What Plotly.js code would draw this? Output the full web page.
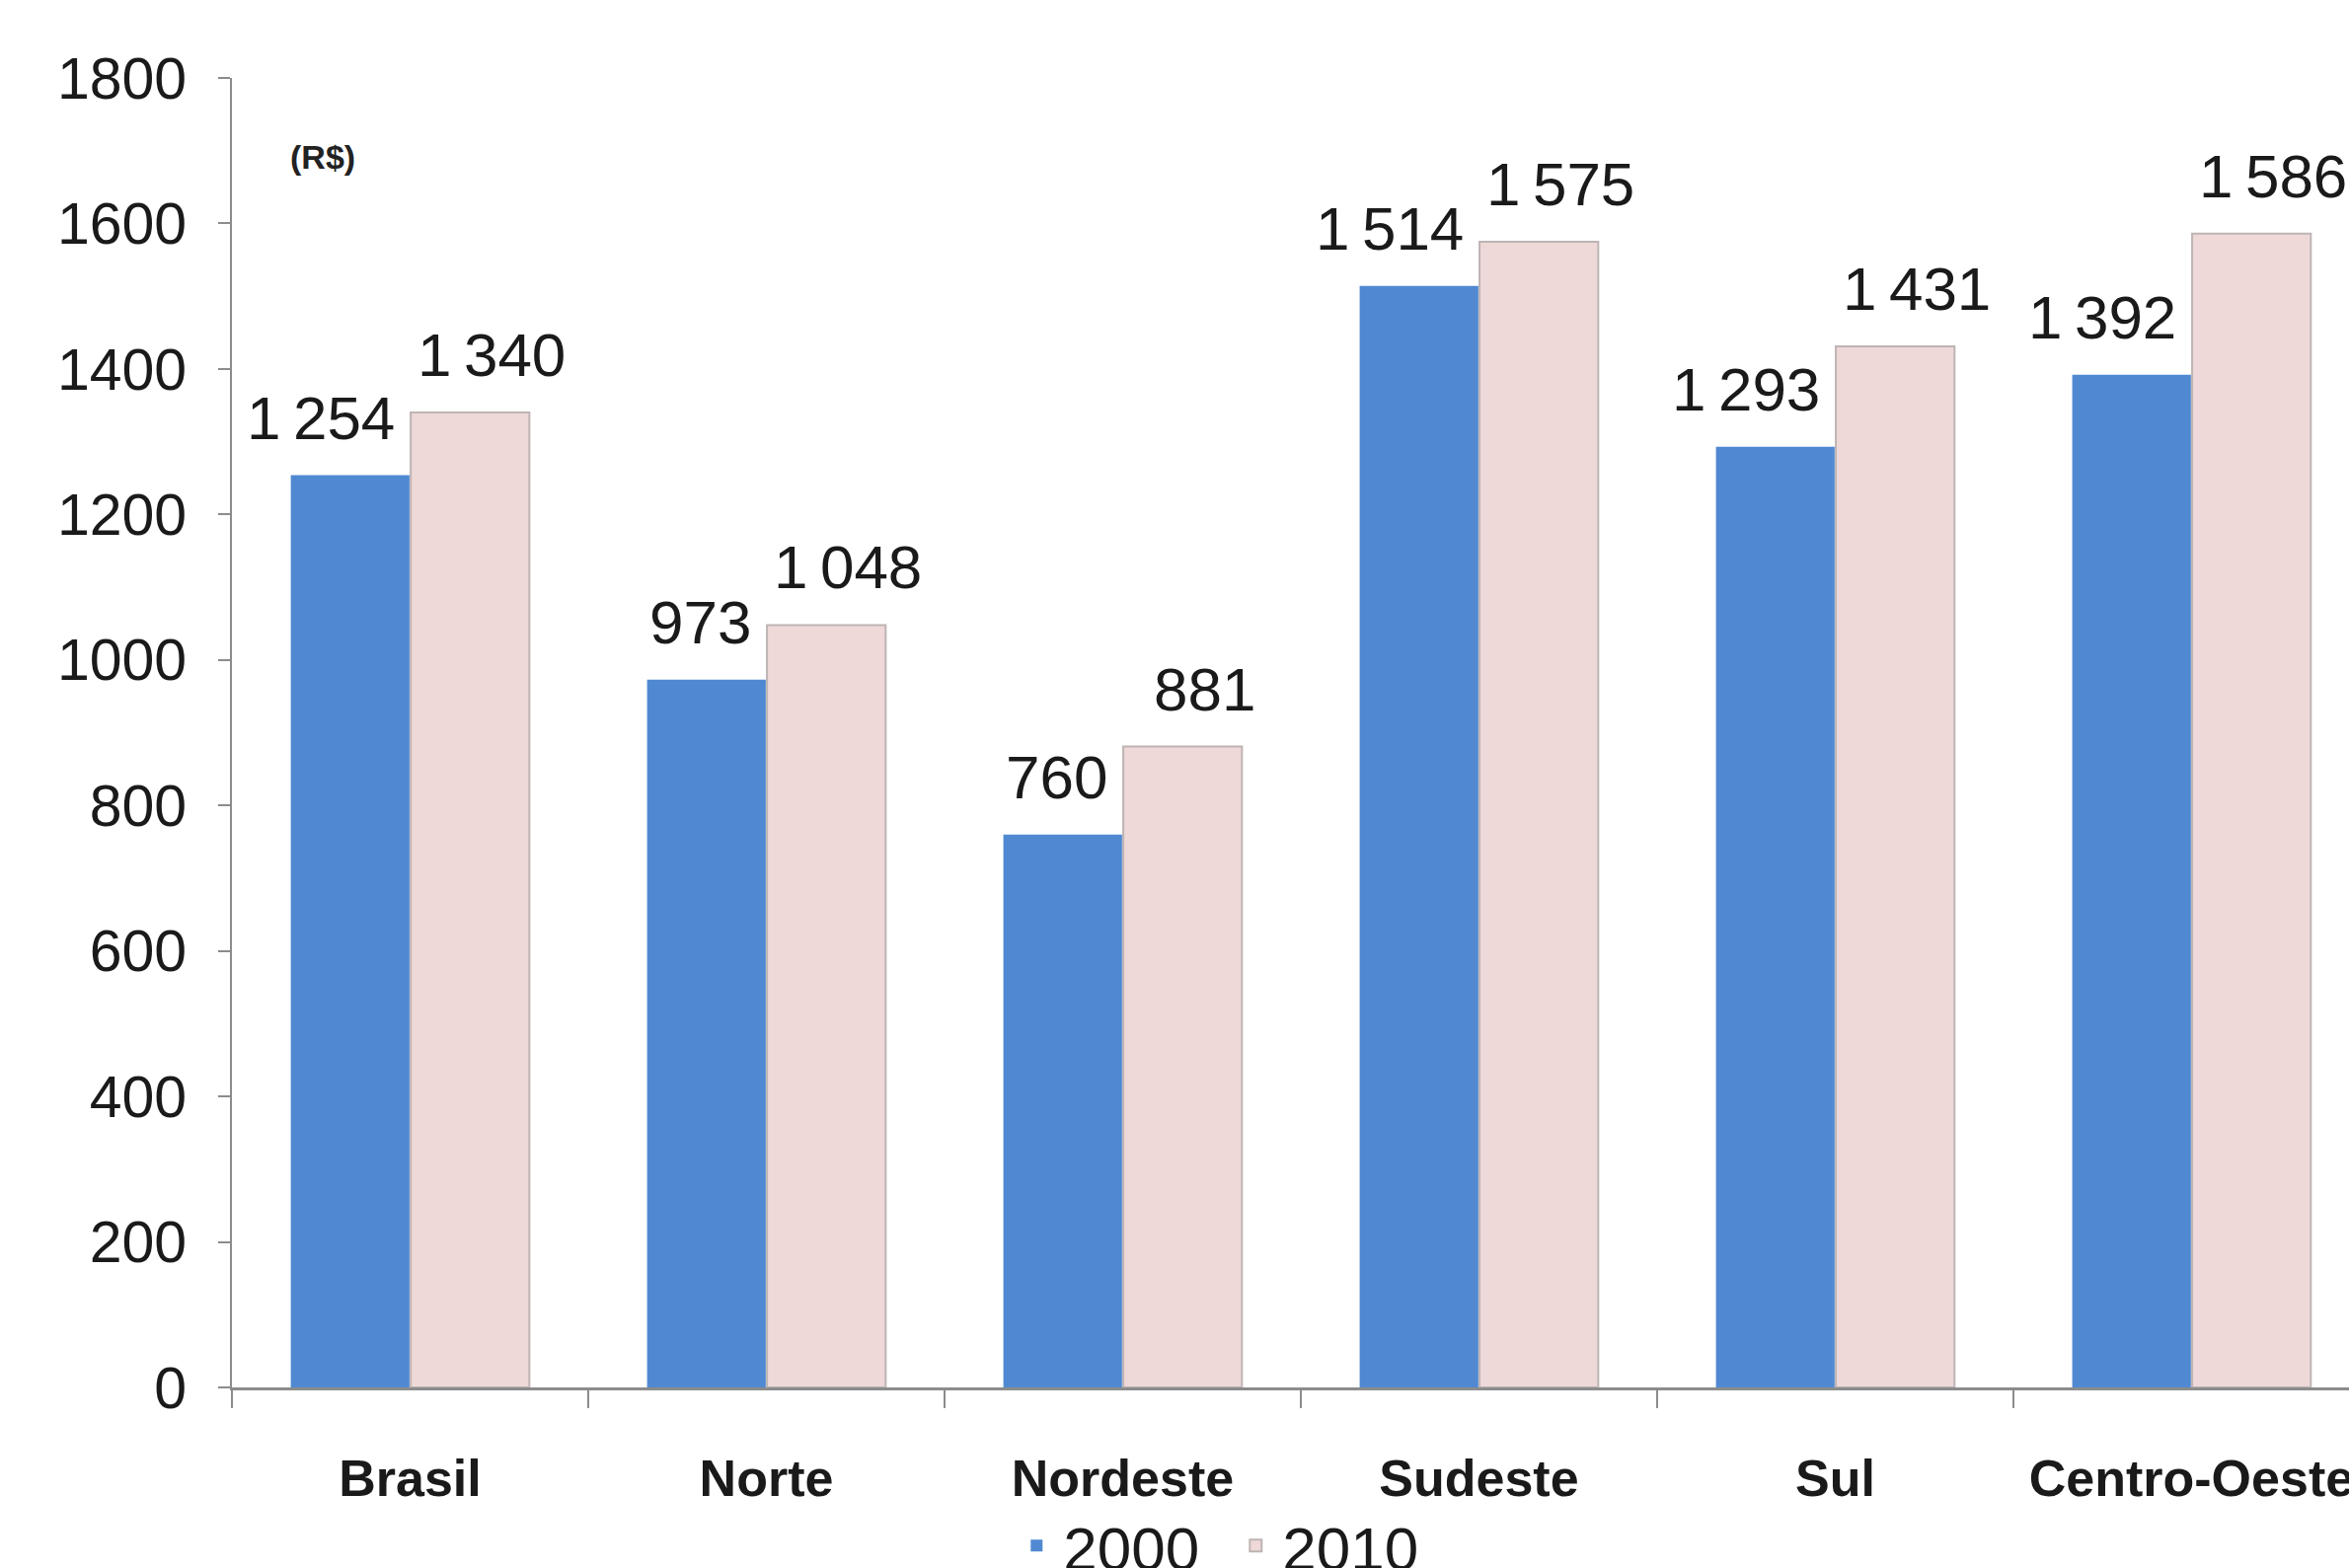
<!DOCTYPE html>
<html>
<head>
<meta charset="utf-8">
<script src="https://cdn.plot.ly/plotly-3.0.1.min.js"></script>
<style>
html,body{margin:0;padding:0;overflow:hidden;background:#fff;}
#chart{width:2380px;height:1589px;}
</style>
</head>
<body>
<div id="chart"></div>
<script>
var categories = ["Brasil", "Norte", "Nordeste", "Sudeste", "Sul", "Centro-Oeste"];
var values2000 = [1254, 973, 760, 1514, 1293, 1392];
var values2010 = [1340, 1048, 881, 1575, 1431, 1586];
var seriesNames = ["2000", "2010"];
var yTicks = [0, 200, 400, 600, 800, 1000, 1200, 1400, 1600, 1800];
var unitLabel = "(R$)";

var blue = "rgb(80,137,210)";
var pink = "rgb(238,217,216)";

function fmt(v) {
  var s = String(v);
  return s.length > 3 ? s.slice(0, s.length - 3) + "\u2009" + s.slice(s.length - 3) : s;
}

var traces = [
  {type: "bar", name: seriesNames[0], x: categories, y: values2000,
   marker: {color: blue, line: {width: 0}}, hoverinfo: "x+y"},
  {type: "bar", name: seriesNames[1], x: categories, y: values2010,
   marker: {color: pink, line: {color: "rgb(190,180,180)", width: 2}}, hoverinfo: "x+y"}
];

var annotations = [];
categories.forEach(function (c, i) {
  annotations.push({x: c, y: values2000[i], xref: "x", yref: "y", text: fmt(values2000[i]),
    showarrow: false, xanchor: "right", yanchor: "bottom", xshift: -13, yshift: 22,
    font: {family: "Liberation Sans, Arial, sans-serif", size: 62, color: "#1a1a1a"}});
  annotations.push({x: c, y: values2010[i], xref: "x", yref: "y", text: fmt(values2010[i]),
    showarrow: false, xanchor: "center", yanchor: "bottom", xshift: 83, yshift: 22,
    font: {family: "Liberation Sans, Arial, sans-serif", size: 62, color: "#1a1a1a"}});
});
annotations.push({x: 0.043, y: 0.94, xref: "paper", yref: "paper", text: "<b>" + unitLabel + "</b>",
  showarrow: false, xanchor: "center", yanchor: "middle",
  font: {family: "Liberation Sans, Arial, sans-serif", size: 34, color: "#222"}});

var layout = {
  width: 2380, height: 1589,
  margin: {l: 235, r: 0, t: 79, b: 183, pad: 0, autoexpand: false},
  paper_bgcolor: "#fff", plot_bgcolor: "#fff",
  barmode: "group", bargap: 0.327, bargroupgap: 0.01,
  showlegend: true,
  legend: {orientation: "h", x: 0.471, xanchor: "center", y: -0.121, yanchor: "middle",
    font: {family: "Liberation Sans, Arial, sans-serif", size: 62, color: "#1a1a1a"},
    itemwidth: 44, entrywidth: 163, entrywidthmode: "pixels", tracegroupgap: 0, bgcolor: "rgba(0,0,0,0)"},
  xaxis: {type: "category", range: [-0.5, 5.442], showgrid: false, zeroline: false, automargin: false,
    showline: true, linecolor: "#8c8c8c", linewidth: 3, tickangle: 0,
    ticks: "outside", tickson: "boundaries", ticklen: 18, tickcolor: "#8c8c8c", tickwidth: 2,
    ticklabelstandoff: 45,
    tickfont: {family: "Liberation Sans, Arial, sans-serif", size: 52, color: "#1a1a1a", weight: "bold"}},
  yaxis: {range: [0, 1800], tickvals: yTicks, ticktext: yTicks.map(String), automargin: false,
    showgrid: false, zeroline: false, showline: true, linecolor: "#8c8c8c", linewidth: 2,
    ticks: "outside", ticklen: 12, tickcolor: "#8c8c8c", tickwidth: 2, ticklabelstandoff: 20,
    tickfont: {family: "Liberation Sans, Arial, sans-serif", size: 59, color: "#1a1a1a"}},
  annotations: annotations
};

Plotly.newPlot("chart", traces, layout, {displayModeBar: false, staticPlot: true});
</script>
</body>
</html>
